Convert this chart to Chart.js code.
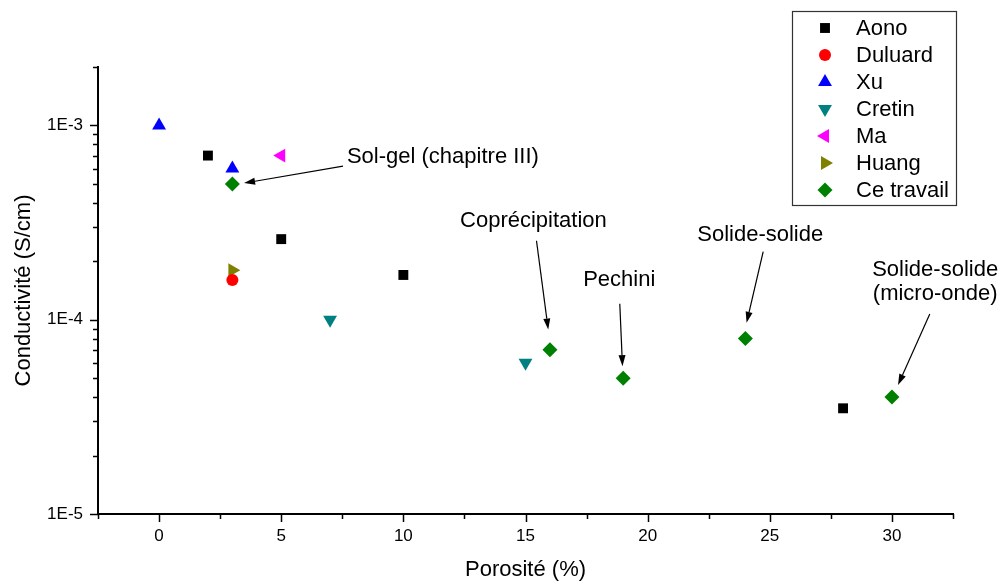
<!DOCTYPE html>
<html>
<head>
<meta charset="utf-8">
<script src="https://cdn.jsdelivr.net/npm/chart.js@4/dist/chart.umd.min.js"></script>
<style>
  html, body { margin: 0; padding: 0; background: #fff; }
  canvas { display: block; }
</style>
</head>
<body>
<canvas id="graphe" width="1002" height="585"></canvas>
<script>
/* Conductivité vs porosité */

// séries (x = porosité %, y = conductivité S/cm)
const aonoX = [2, 5, 10, 28];
const aonoY = [7e-4, 2.6e-4, 1.7e-4, 3.5e-5];
const duluardX = [3];
const duluardY = [1.6e-4];
const xuX = [0, 3];
const xuY = [1e-3, 6e-4];
const cretinX = [7, 15];
const cretinY = [1e-4, 6e-5];
const maX = [5];
const maY = [7e-4];
const huangX = [3];
const huangY = [1.8e-4];
const travailX = [3, 16, 19, 24, 30];
const travailY = [5e-4, 7e-5, 5e-5, 8e-5, 4e-5];

// graduations
const xTickValues = [0, 5, 10, 15, 20, 25, 30];
const xTickLabels = ['0', '5', '10', '15', '20', '25', '30'];
const yTickValues = [1e-5, 1e-4, 1e-3];
const yTickLabels = ['1E-5', '1E-4', '1E-3'];

const FONT = "'Liberation Sans', Arial, sans-serif";

function serie(label, xs, ys, couleur, style, rot, rayon) {
    return {
        label: label,
        data: xs.map((x, i) => ({ x: x, y: ys[i] })),
        backgroundColor: couleur,
        borderColor: couleur,
        pointStyle: style,
        pointRotation: rot,
        pointRadius: rayon,
        pointHoverRadius: rayon,
        pointBorderWidth: 0
    };
}

const datasets = [
    serie('Aono', aonoX, aonoY, '#000000', 'rect', 0, 7),
    serie('Duluard', duluardX, duluardY, '#ff0000', 'circle', 0, 6),
    serie('Xu', xuX, xuY, '#0000ff', 'triangle', 0, 8),
    serie('Cretin', cretinX, cretinY, '#008080', 'triangle', 180, 8),
    serie('Ma', maX, maY, '#ff00ff', 'triangle', 270, 8),
    serie('Huang', huangX, huangY, '#808000', 'triangle', 90, 8),
    serie('Ce travail', travailX, travailY, '#008000', 'rectRot', 0, 7.5)
];

// annotations : texte + flèche (coordonnées en unités des axes)
const annotations = [
    { lignes: ['Sol-gel (chapitre III)'], align: 'left', tx: 7.69, ty: 6.87e-4, x0: 7.53, y0: 6.18e-4, x1: 3.48, y1: 5.05e-4 },
    { lignes: ['Coprécipitation'], align: 'left', tx: 12.32, ty: 3.22e-4, x0: 15.45, y0: 2.55e-4, x1: 15.93, y1: 8.9e-5 },
    { lignes: ['Pechini'], align: 'left', tx: 17.36, ty: 1.61e-4, x0: 18.86, y0: 1.21e-4, x1: 18.97, y1: 5.77e-5 },
    { lignes: ['Solide-solide'], align: 'left', tx: 22.03, ty: 2.74e-4, x0: 24.73, y0: 2.24e-4, x1: 24.05, y1: 9.64e-5 },
    { lignes: ['Solide-solide', '(micro-onde)'], align: 'center', tx: 31.77, ty: 1.81e-4, x0: 31.55, y0: 1.07e-4, x1: 30.25, y1: 4.61e-5 }
];

// graduations secondaires dessinées à la main (longueurs différentes)
const pluginGraduations = {
    id: 'graduations',
    afterDraw(chart) {
        const ctx = chart.ctx;
        const sx = chart.scales.x;
        const sy = chart.scales.y;
        const area = chart.chartArea;
        ctx.save();
        ctx.strokeStyle = '#000';
        ctx.lineWidth = 1.5;
        ctx.beginPath();
        // axe x
        for (let v = -2.5; v <= 32.5; v += 2.5) {
            const px = Math.round(sx.getPixelForValue(v)) + 0.5;
            const len = (v % 5 === 0) ? 8 : 5;
            ctx.moveTo(px, area.bottom);
            ctx.lineTo(px, area.bottom + len);
        }
        // axe y (log)
        for (let e = -5; e <= -3; e++) {
            for (let k = 1; k <= 9; k++) {
                const v = k * Math.pow(10, e);
                if (v > sy.max * 1.0001) break;
                const py = Math.round(sy.getPixelForValue(v)) + 0.5;
                const len = (k === 1) ? 8 : 5;
                ctx.moveTo(area.left, py);
                ctx.lineTo(area.left - len, py);
            }
        }
        ctx.stroke();
        ctx.restore();
    }
};

const pluginAnnotations = {
    id: 'annotations',
    afterDatasetsDraw(chart) {
        const ctx = chart.ctx;
        const sx = chart.scales.x;
        const sy = chart.scales.y;
        ctx.save();
        ctx.fillStyle = '#000';
        ctx.strokeStyle = '#000';
        ctx.font = '22px ' + FONT;
        ctx.textBaseline = 'middle';
        annotations.forEach(a => {
            ctx.textAlign = a.align;
            const tx = sx.getPixelForValue(a.tx);
            const ty = sy.getPixelForValue(a.ty);
            a.lignes.forEach((l, i) => ctx.fillText(l, tx, ty + i * 24));

            const x0 = sx.getPixelForValue(a.x0), y0 = sy.getPixelForValue(a.y0);
            const x1 = sx.getPixelForValue(a.x1), y1 = sy.getPixelForValue(a.y1);
            const ang = Math.atan2(y1 - y0, x1 - x0);
            const tete = 11, demi = 3.5;
            const bx = x1 - Math.cos(ang) * tete, by = y1 - Math.sin(ang) * tete;
            ctx.lineWidth = 1.2;
            ctx.beginPath();
            ctx.moveTo(x0, y0);
            ctx.lineTo(bx, by);
            ctx.stroke();
            ctx.beginPath();
            ctx.moveTo(x1, y1);
            ctx.lineTo(bx + Math.sin(ang) * demi, by - Math.cos(ang) * demi);
            ctx.lineTo(bx - Math.sin(ang) * demi, by + Math.cos(ang) * demi);
            ctx.closePath();
            ctx.fill();
        });
        ctx.restore();
    }
};

// légende encadrée en haut à droite
const pluginLegende = {
    id: 'legendeCadre',
    afterDraw(chart) {
        const ctx = chart.ctx;
        const box = { x: 792, y: 11, w: 164, h: 194 };
        ctx.save();
        ctx.fillStyle = '#fff';
        ctx.fillRect(box.x, box.y, box.w, box.h);
        ctx.strokeStyle = '#333';
        ctx.lineWidth = 1.2;
        ctx.strokeRect(box.x + 0.5, box.y + 0.5, box.w, box.h);
        ctx.font = '22px ' + FONT;
        ctx.textBaseline = 'middle';
        ctx.textAlign = 'left';
        chart.data.datasets.forEach((ds, i) => {
            const cy = 28 + i * 27;
            ctx.fillStyle = ds.backgroundColor;
            if (Chart.helpers && Chart.helpers.drawPoint) {
                Chart.helpers.drawPoint(ctx, {
                    pointStyle: ds.pointStyle,
                    rotation: ds.pointRotation,
                    radius: ds.pointRadius,
                    borderWidth: 0
                }, 825, cy);
            }
            ctx.fillStyle = '#000';
            ctx.fillText(ds.label, 856, cy + 1);
        });
        ctx.restore();
    }
};

Chart.defaults.font.family = FONT;
Chart.defaults.color = '#000';

new Chart(document.getElementById('graphe'), {
    type: 'scatter',
    data: { datasets: datasets },
    options: {
        responsive: false,
        animation: false,
        events: [],
        layout: { padding: { top: 67, right: 49, left: 0, bottom: 0 } },
        plugins: {
            legend: { display: false },
            tooltip: { enabled: false }
        },
        scales: {
            x: {
                type: 'linear',
                min: -2.5,
                max: 32.5,
                grid: { display: false, tickLength: 8 },
                border: { display: true, color: '#000', width: 2 },
                afterBuildTicks: s => { s.ticks = xTickValues.map(v => ({ value: v })); },
                afterFit: s => { s.height = 71; },
                ticks: {
                    autoSkip: false,
                    maxRotation: 0,
                    padding: 4,
                    font: { size: 17 },
                    callback: (v, i) => xTickLabels[i]
                },
                title: {
                    display: true,
                    text: 'Porosité (%)',
                    font: { size: 22 },
                    padding: { top: 0, bottom: 2 }
                }
            },
            y: {
                type: 'logarithmic',
                min: 1e-5,
                max: 2e-3,
                grid: { display: false, tickLength: 8 },
                border: { display: true, color: '#000', width: 2 },
                afterBuildTicks: s => { s.ticks = yTickValues.map(v => ({ value: v })); },
                afterFit: s => { s.width = 98; },
                ticks: {
                    autoSkip: false,
                    padding: 7,
                    font: { size: 17 },
                    callback: (v, i) => yTickLabels[i]
                },
                title: {
                    display: true,
                    text: 'Conductivité (S/cm)',
                    font: { size: 22 },
                    padding: { top: 11, bottom: 0 }
                }
            }
        }
    },
    plugins: [pluginGraduations, pluginAnnotations, pluginLegende]
});
</script>
</body>
</html>
